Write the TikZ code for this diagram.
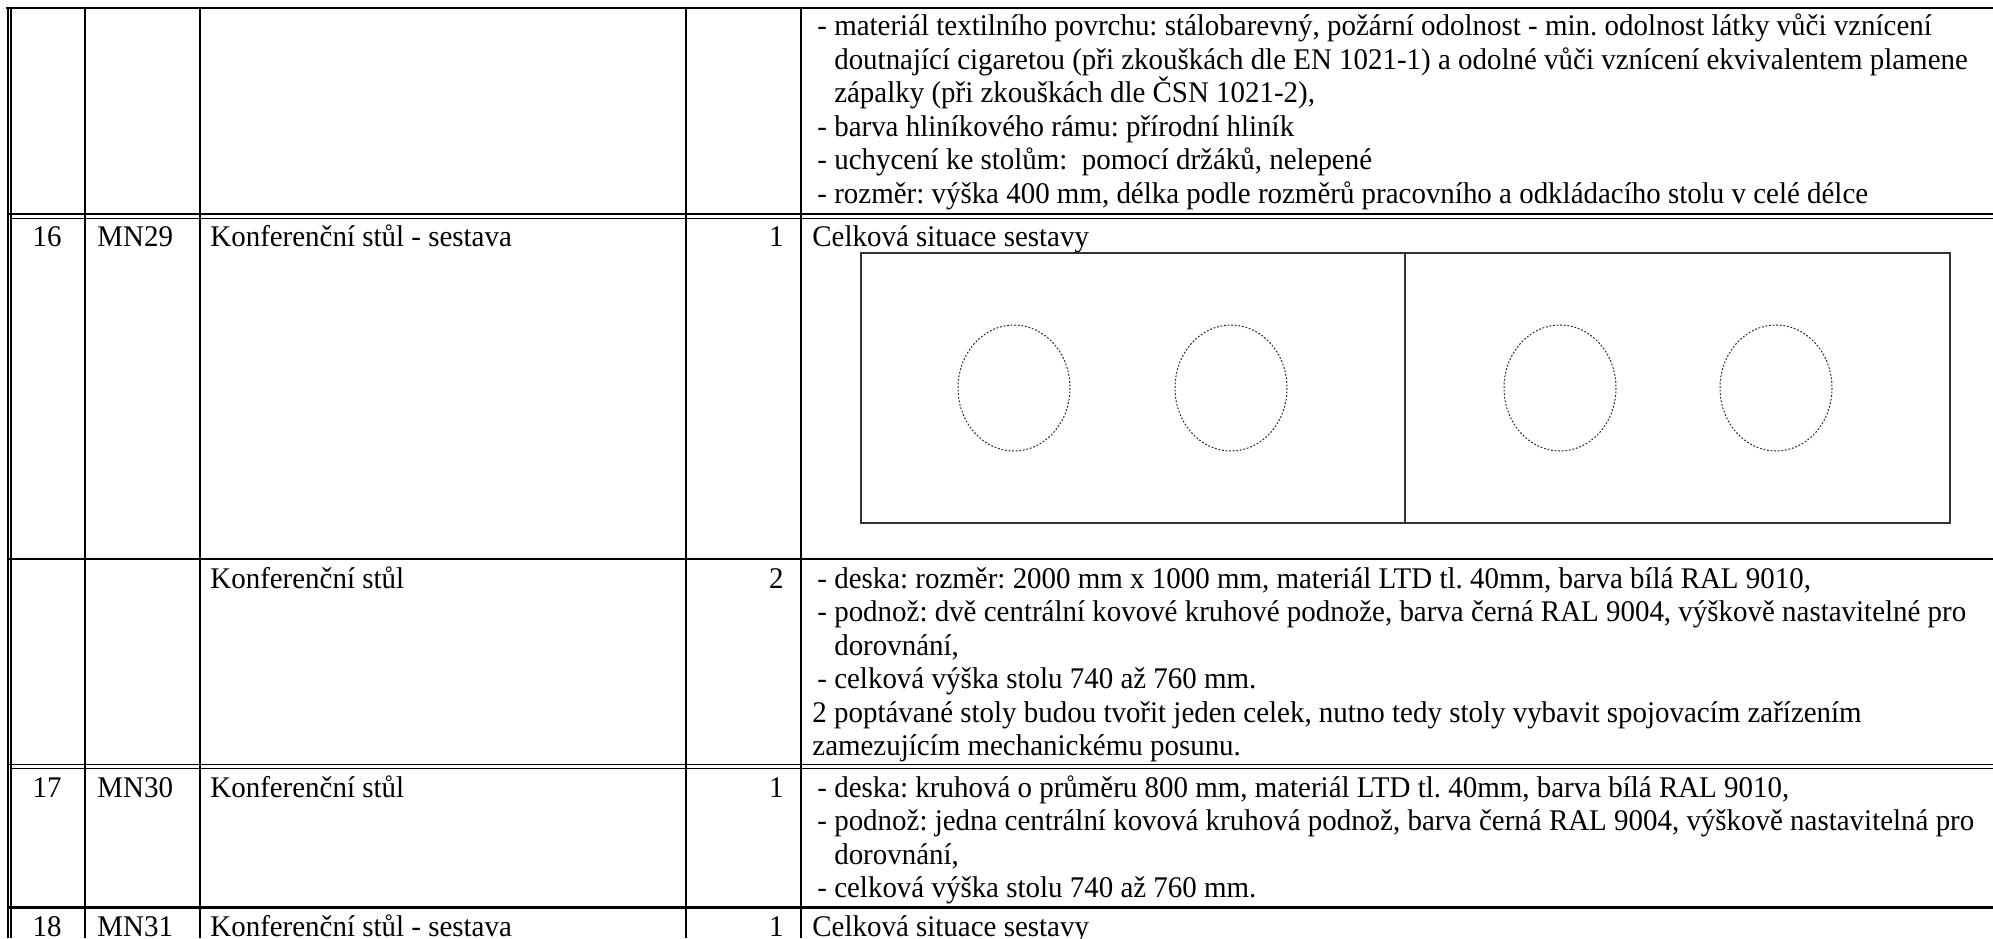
\documentclass[tikz,border=0pt]{standalone}
\usepackage{fontspec}
\setmainfont{Liberation Serif}[FakeStretch=0.965]
\begin{document}
\frenchspacing
\begin{tikzpicture}[x=0.5pt,y=-0.5pt,
  txt/.style={anchor=base west, inner sep=0pt, font=\fontsize{15}{17}\selectfont},
  num/.style={anchor=base, inner sep=0pt, font=\fontsize{15}{17}\selectfont},
  qty/.style={anchor=base east, inner sep=0pt, font=\fontsize{15}{17}\selectfont},
  rule/.style={line width=1pt, black},
  thinrule/.style={line width=0.6pt, black},
  boxline/.style={line width=0.7pt, black!80},
  seat/.style={line width=0.5pt, black!85, dash pattern=on 0.9pt off 0.9pt}]
\useasboundingbox (0,0) rectangle (1993,938);
\fill[white] (0,0) rectangle (1993,938);
% ---- table rules ----
\draw[line width=1.3pt] (6,8) -- (1993,8);
\draw[line width=1pt] (7.5,7) -- (7.5,938);
\draw[thinrule] (11,8) -- (11,938);
\foreach \cx in {85,200,686,801} \draw[rule] (\cx,8) -- (\cx,938);
\draw[line width=0.8pt] (7,214) -- (1993,214);
\draw[thinrule] (11,218.5) -- (1993,218.5);
\draw[line width=1.2pt] (7,559) -- (1993,559);
\draw[line width=0.8pt] (7,764.5) -- (1993,764.5);
\draw[thinrule] (11,768.5) -- (1993,768.5);
\draw[line width=1.5pt] (7,907) -- (1993,907);
% ---- top row (continued) ----
\node[txt] (a1) at (817,35.5) {- materiál textilního povrchu: stálobarevný, požární odolnost - min. odolnost látky vůči vznícení};
\node[txt] (a2) at (817,69) {\phantom{- }doutnající cigaretou (při zkouškách dle EN 1021-1) a odolné vůči vznícení ekvivalentem plamene};
\node[txt] (a3) at (817,102.5) {\phantom{- }zápalky (při zkouškách dle ČSN 1021-2),};
\node[txt] (a4) at (817,136) {- barva hliníkového rámu: přírodní hliník};
\node[txt] (a5) at (817,169.5) {- uchycení ke stolům:\ \ pomocí držáků, nelepené};
\node[txt] (a6) at (817,203) {- rozměr: výška 400 mm, délka podle rozměrů pracovního a odkládacího stolu v celé délce};
% ---- row 16 ----
\node[num] (n16) at (47,246) {16};
\node[txt] (c16) at (97,246) {MN29};
\node[txt] (d16) at (210,246) {Konferenční stůl - sestava};
\node[qty] (q16) at (784,246) {1};
\node[txt] (s16) at (812,246) {Celková situace sestavy};
% sketch of the assembly
\draw[boxline] (861,253) rectangle (1950,523);
\draw[boxline] (1405,253) -- (1405,523);
\draw[seat] (1014,388) ellipse [x radius=56, y radius=63];
\draw[seat] (1231,388) ellipse [x radius=56, y radius=63];
\draw[seat] (1560,388) ellipse [x radius=56, y radius=63];
\draw[seat] (1776,388) ellipse [x radius=56, y radius=63];
% ---- sub row ----
\node[txt] (dk) at (210,588) {Konferenční stůl};
\node[qty] (qk) at (784,588) {2};
\node[txt] (b1) at (817,588) {- deska: rozměr: 2000 mm x 1000 mm, materiál LTD tl. 40mm, barva bílá RAL 9010,};
\node[txt] (b2) at (817,621.5) {- podnož: dvě centrální kovové kruhové podnože, barva černá RAL 9004, výškově nastavitelné pro};
\node[txt] (b3) at (817,655) {\phantom{- }dorovnání,};
\node[txt] (b4) at (817,688.5) {- celková výška stolu 740 až 760 mm.};
\node[txt] (b5) at (812,722) {2 poptávané stoly budou tvořit jeden celek, nutno tedy stoly vybavit spojovacím zařízením};
\node[txt] (b6) at (812,755.5) {zamezujícím mechanickému posunu.};
% ---- row 17 ----
\node[num] (n17) at (47,797) {17};
\node[txt] (c17) at (97,797) {MN30};
\node[txt] (d17) at (210,797) {Konferenční stůl};
\node[qty] (q17) at (784,797) {1};
\node[txt] (e1) at (817,797) {- deska: kruhová o průměru 800 mm, materiál LTD tl. 40mm, barva bílá RAL 9010,};
\node[txt] (e2) at (817,830.5) {- podnož: jedna centrální kovová kruhová podnož, barva černá RAL 9004, výškově nastavitelná pro};
\node[txt] (e3) at (817,864) {\phantom{- }dorovnání,};
\node[txt] (e4) at (817,897.5) {- celková výška stolu 740 až 760 mm.};
% ---- row 18 ----
\node[num] (n18) at (47,936) {18};
\node[txt] (c18) at (97,936) {MN31};
\node[txt] (d18) at (210,936) {Konferenční stůl - sestava};
\node[qty] (q18) at (784,936) {1};
\node[txt] (s18) at (812,936) {Celková situace sestavy};
\end{tikzpicture}
\end{document}
